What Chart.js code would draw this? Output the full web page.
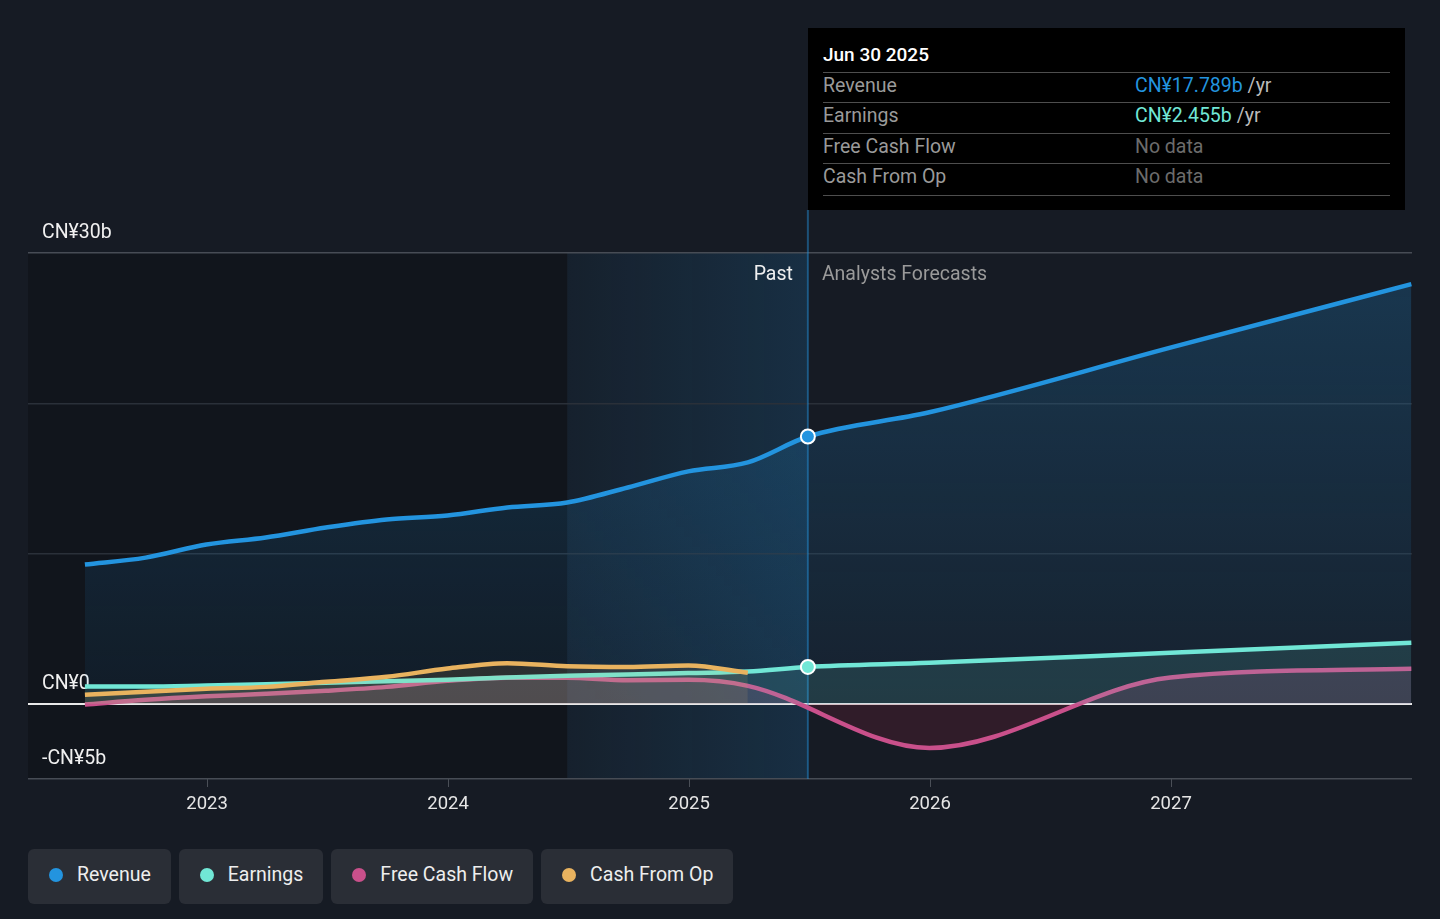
<!DOCTYPE html>
<html>
<head>
<meta charset="utf-8">
<script src="https://cdn.jsdelivr.net/npm/chart.js@4.4.1/dist/chart.umd.min.js"></script>
<style>
  body { margin: 0; background: #161b24; font-family: Roboto, 'Noto Sans', sans-serif; width: 1440px; height: 919px; overflow: hidden; position: relative; }
  #wrap { position: absolute; left: 0; top: 0; width: 1440px; height: 830px; }
  .tip { position: absolute; left: 808px; top: 28px; width: 597px; height: 182px; background: #000; }
  .tip div { position: absolute; white-space: nowrap; line-height: 20px; }
  .tip .sep { left: 15px; width: 567px; height: 1px; background: #4e4e4e; }
  .tip .row { font-size: 19.5px; }
  .legend { position: absolute; top: 849px; left: 28px; display: flex; gap: 8px; }
  .pill { height: 55px; box-sizing: border-box; padding: 0 20px 4px 21px; background: #2a2e36; border-radius: 6px; display: flex; align-items: center; color: #eee; font-size: 19.5px; }
  .pill i { width: 14px; height: 14px; border-radius: 50%; margin-right: 14px; display: inline-block; }
</style>
</head>
<body>
<div id="wrap"><canvas id="growthChart"></canvas></div>

<div class="tip">
  <div style="left:15px;top:17px;color:#fff;font-size:19px;font-weight:500">Jun 30 2025</div>
  <div class="sep" style="top:44px"></div>
  <div class="row" style="left:15px;top:48px;color:#9a9a9a">Revenue</div>
  <div class="row" style="left:327px;top:48px"><span style="color:#2394df">CN¥17.789b</span> <span style="color:#bbb">/yr</span></div>
  <div class="sep" style="top:74px"></div>
  <div class="row" style="left:15px;top:78px;color:#9a9a9a">Earnings</div>
  <div class="row" style="left:327px;top:78px"><span style="color:#71e7d6">CN¥2.455b</span> <span style="color:#bbb">/yr</span></div>
  <div class="sep" style="top:105px"></div>
  <div class="row" style="left:15px;top:109px;color:#9a9a9a">Free Cash Flow</div>
  <div class="row" style="left:327px;top:109px;color:#6c6c6c">No data</div>
  <div class="sep" style="top:135px"></div>
  <div class="row" style="left:15px;top:139px;color:#9a9a9a">Cash From Op</div>
  <div class="row" style="left:327px;top:139px;color:#6c6c6c">No data</div>
  <div class="sep" style="top:167px"></div>
</div>

<div class="legend">
  <div class="pill"><i style="background:#2394df"></i>Revenue</div>
  <div class="pill"><i style="background:#71e7d6"></i>Earnings</div>
  <div class="pill"><i style="background:#c9508b"></i>Free Cash Flow</div>
  <div class="pill"><i style="background:#e9b35f"></i>Cash From Op</div>
</div>

<script>
// reported quarters (trailing twelve months), CN¥ billions
const pastDates = ['2022-06-30', '2022-09-30', '2022-12-31', '2023-03-31', '2023-06-30', '2023-09-30',
  '2023-12-31', '2024-03-31', '2024-06-30', '2024-09-30', '2024-12-31', '2025-03-31', '2025-06-30'];
const forecastDates = ['2025-12-31', '2026-12-31', '2027-12-31'];

const revenuePast = [9.27, 9.73, 10.6, 11.07, 11.73, 12.27, 12.53, 13.07, 13.4, 14.4, 15.47, 16.07, 17.789];
const revenueForecast = [19.4, 23.7, 27.93];
const earningsPast = [1.15, 1.15, 1.22, 1.3, 1.4, 1.5, 1.6, 1.75, 1.87, 1.95, 2.05, 2.15, 2.455];
const earningsForecast = [2.73, 3.4, 4.07];
const fcfPast = [-0.05, 0.27, 0.5, 0.67, 0.87, 1.13, 1.53, 1.73, 1.73, 1.57, 1.6, 1.2]; // no Jun 2025 figure
const fcfForecast = [-2.93, 1.75, 2.33];
const cashOpPast = [0.6, 0.8, 1.0, 1.13, 1.47, 1.8, 2.35, 2.7, 2.5, 2.45, 2.55, 2.07];

const yearTicks = [2023, 2024, 2025, 2026, 2027];
const yTicks = [-5, 0, 10, 20, 30];
const yLabels = { '30': 'CN¥30b', '0': 'CN¥0', '-5': '-CN¥5b' };
const lastReported = '2025-06-30';
const bandStart = '2024-06-30';

const toYear = d => {
  const [y, m, day] = d.split('-').map(Number);
  const a = Date.UTC(y, 0, 1), b = Date.UTC(y + 1, 0, 1);
  return y + (Date.UTC(y, m - 1, day) - a) / (b - a);
};
const pts = (dates, vals) => vals.map((v, i) => ({ x: toYear(dates[i]), y: v }));

const cRev = '#2394df', cEarn = '#71e7d6', cFcf = '#c9508b', cOp = '#e9b35f';
const nowX = toYear(lastReported);

const marker = c => (c.raw && Math.abs(c.raw.x - nowX) < 1e-6 ? 7 : 0);

const overlay = {
  id: 'overlay',
  beforeDraw(chart) {
    const { ctx, chartArea: a, scales: { x } } = chart;
    const xb = x.getPixelForValue(toYear(bandStart)), xn = x.getPixelForValue(nowX);
    ctx.save();
    ctx.fillStyle = 'rgba(0,0,0,0.22)';
    ctx.fillRect(a.left, a.top, xb - a.left, a.bottom - a.top);
    const g = ctx.createLinearGradient(xb, 0, xn, 0);
    g.addColorStop(0, 'rgba(35,148,223,0.05)');
    g.addColorStop(1, 'rgba(35,148,223,0.17)');
    ctx.fillStyle = g;
    ctx.fillRect(xb, a.top, xn - xb, a.bottom - a.top);
    ctx.restore();
  },
  beforeDatasetsDraw(chart) {
    const { ctx, chartArea: a, scales: { x, y } } = chart;
    const xn = x.getPixelForValue(nowX);
    ctx.save();
    ctx.strokeStyle = 'rgba(35,148,223,0.45)';
    ctx.lineWidth = 2;
    ctx.beginPath();
    ctx.moveTo(xn, 210);
    ctx.lineTo(xn, a.bottom);
    ctx.stroke();

    ctx.font = '19.5px Roboto';
    ctx.fillStyle = '#f0f0f0';
    ctx.textBaseline = 'middle';
    Object.keys(yLabels).forEach(k => {
      ctx.fillText(yLabels[k], 42, y.getPixelForValue(Number(k)) - 20);
    });

    ctx.textAlign = 'right';
    ctx.fillText('Past', xn - 15, a.top + 22);
    ctx.textAlign = 'left';
    ctx.fillStyle = '#9a9a9a';
    ctx.fillText('Analysts Forecasts', xn + 14, a.top + 22);
    ctx.restore();
  }
};

const revFill = c => {
  const a = c.chart.chartArea;
  if (!a) return 'rgba(35,148,223,0.15)';
  const g = c.chart.ctx.createLinearGradient(0, a.top, 0, c.chart.scales.y.getPixelForValue(0));
  g.addColorStop(0, 'rgba(35,148,223,0.24)');
  g.addColorStop(1, 'rgba(35,148,223,0.06)');
  return g;
};

const line = (label, data, color, fill, order) => ({
  label, data, order,
  borderColor: color,
  borderWidth: 4.5,
  backgroundColor: fill,
  fill: 'origin',
  cubicInterpolationMode: 'monotone',
  pointRadius: marker,
  pointBackgroundColor: color,
  pointBorderColor: '#fff',
  pointBorderWidth: 2,
});

const fcfSet = line('Free Cash Flow',
  pts(pastDates, fcfPast).concat(pts(forecastDates, fcfForecast)), cFcf, null, 2);
fcfSet.fill = { target: 'origin', above: 'rgba(201,80,139,0.18)', below: 'rgba(140,30,60,0.22)' };

new Chart(document.getElementById('growthChart'), {
  type: 'line',
  data: {
    datasets: [
      line('Cash From Op', pts(pastDates, cashOpPast), cOp, 'rgba(233,179,95,0.12)', 0),
      line('Earnings', pts(pastDates, earningsPast).concat(pts(forecastDates, earningsForecast)), cEarn, 'rgba(113,231,214,0.13)', 1),
      fcfSet,
      line('Revenue', pts(pastDates, revenuePast).concat(pts(forecastDates, revenueForecast)), cRev, revFill, 3),
    ],
  },
  options: {
    responsive: true,
    maintainAspectRatio: false,
    animation: false,
    layout: { padding: { left: 28, right: 28, top: 253, bottom: 0 } },
    plugins: { legend: { display: false }, tooltip: { enabled: false } },
    events: [],
    scales: {
      x: {
        type: 'linear',
        min: 2022.257,
        max: 2028.0,
        afterBuildTicks: s => { s.ticks = yearTicks.map(v => ({ value: v })); },
        afterFit: s => { s.height = 51; },
        ticks: { color: '#e6e6e6', font: { family: 'Roboto', size: 18.5 }, padding: 6, maxRotation: 0,
          callback: v => String(v) },
        grid: { drawOnChartArea: false, tickLength: 8, color: '#4a4f57' },
        border: { display: false },
      },
      y: {
        min: -5,
        max: 30,
        afterBuildTicks: s => { s.ticks = yTicks.map(v => ({ value: v })); },
        afterFit: s => { s.width = 0; },
        ticks: { display: false },
        border: { display: false },
        grid: {
          drawTicks: false,
          color: c => c.tick.value === 0 ? '#e8e8e8' : (c.tick.value === 30 || c.tick.value === -5 ? '#474c55' : '#2a3039'),
          lineWidth: c => c.tick.value === 0 ? 2 : 1.5,
        },
      },
    },
  },
  plugins: [overlay],
});
</script>
</body>
</html>
